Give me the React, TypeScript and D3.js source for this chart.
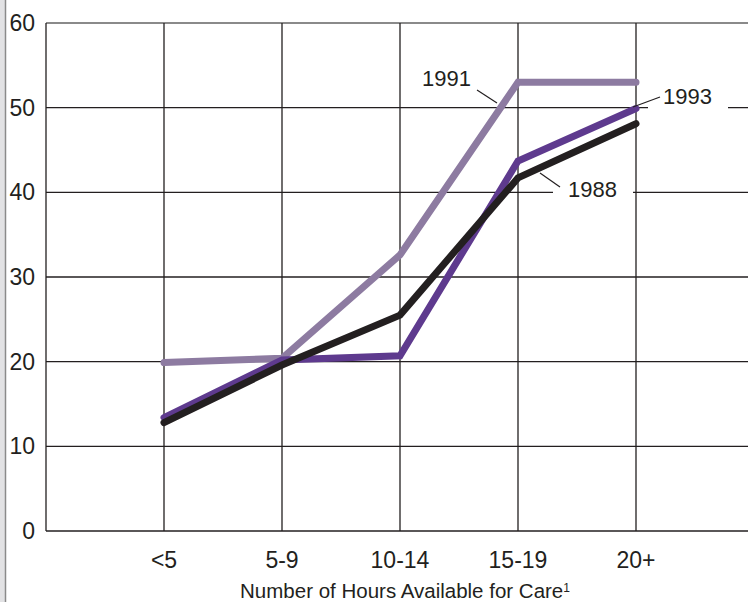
import React from "react";
import * as d3 from "d3";

const categories = ["<5", "5-9", "10-14", "15-19", "20+"];
const yTicks = [0, 10, 20, 30, 40, 50, 60];
const values1991 = [19.9, 20.4, 32.6, 53.0, 53.0];
const values1993 = [13.4, 20.2, 20.7, 43.7, 49.9];
const values1988 = [12.8, 19.6, 25.5, 41.7, 48.1];

const seriesList = [
  { name: "1991", values: values1991, color: "#8d7ba1" },
  { name: "1993", values: values1993, color: "#5e3a8e" },
  { name: "1988", values: values1988, color: "#231f20" },
];

const FONT = "'Liberation Sans', Arial, Helvetica, sans-serif";
const INK = "#231f20";

export default function App() {
  const W = 748;
  const H = 602;
  const left = 46;
  const top = 23;
  const bottom = 531;
  const x = d3.scalePoint<string>().domain(categories).range([left, left + 708]).padding(1);
  const y = d3.scaleLinear().domain([0, 60]).range([bottom, top]);
  const line = d3
    .line<number>()
    .x((_, i) => x(categories[i]) as number)
    .y((d) => y(d));

  const labels = [
    { text: "1991", tx: 422, ty: 86, box: null, lead: [477, 90, 497, 103] },
    { text: "1993", tx: 663, ty: 104, box: [648, 86, 80, 26], lead: [633, 107, 660, 97] },
    { text: "1988", tx: 568, ty: 197, box: [553, 178, 80, 26], lead: [540, 173, 560, 187] },
  ];

  return (
    <svg
      width={W}
      height={H}
      style={{ position: "absolute", left: 0, top: 0, background: "#fff" }}
      fontFamily={FONT}
    >
      <rect x={0} y={0} width={5} height={H} fill="#e2e2e4" />
      <line x1={5.5} x2={5.5} y1={0} y2={H} stroke="#8a8a8a" strokeWidth={1.5} />

      {/* horizontal grid */}
      {yTicks.map((t) =>
        t === 60 ? (
          <line key={t} x1={left} x2={W} y1={y(t)} y2={y(t)} stroke="#8a8a8a" strokeWidth={2} />
        ) : (
          <line key={t} x1={left} x2={W} y1={y(t)} y2={y(t)} stroke={INK} strokeWidth={1.3} />
        )
      )}
      {/* vertical grid */}
      <line x1={left} x2={left} y1={top} y2={bottom} stroke={INK} strokeWidth={1.3} />
      {categories.map((c) => (
        <line key={c} x1={x(c)} x2={x(c)} y1={top} y2={bottom} stroke={INK} strokeWidth={1.3} />
      ))}

      {/* y labels */}
      {yTicks.map((t) => (
        <text
          key={t}
          x={35}
          y={y(t)}
          dy="0.35em"
          textAnchor="end"
          fontSize={23}
          fill={INK}
        >
          {t}
        </text>
      ))}

      {/* x labels */}
      {categories.map((c) => (
        <text key={c} x={x(c)} y={568} textAnchor="middle" fontSize={23} fill={INK}>
          {c}
        </text>
      ))}
      <text x={405} y={598} textAnchor="middle" fontSize={20.5} fill={INK}>
        Number of Hours Available for Care
        <tspan fontSize={12} dy={-6}>1</tspan>
      </text>

      {/* label boxes */}
      {labels.map((l) =>
        l.box ? (
          <rect key={l.text + "b"} x={l.box[0]} y={l.box[1]} width={l.box[2]} height={l.box[3]} fill="#fff" />
        ) : null
      )}

      {/* series */}
      {seriesList.map((s) => (
        <path
          key={s.name}
          d={line(s.values) as string}
          fill="none"
          stroke={s.color}
          strokeWidth={7}
          strokeLinecap="round"
          strokeLinejoin="miter"
        />
      ))}

      {/* labels */}
      {labels.map((l) => (
        <g key={l.text}>
          <line x1={l.lead[0]} y1={l.lead[1]} x2={l.lead[2]} y2={l.lead[3]} stroke={INK} strokeWidth={1.2} />
          <text x={l.tx} y={l.ty} fontSize={22} fill={INK}>
            {l.text}
          </text>
        </g>
      ))}
    </svg>
  );
}
